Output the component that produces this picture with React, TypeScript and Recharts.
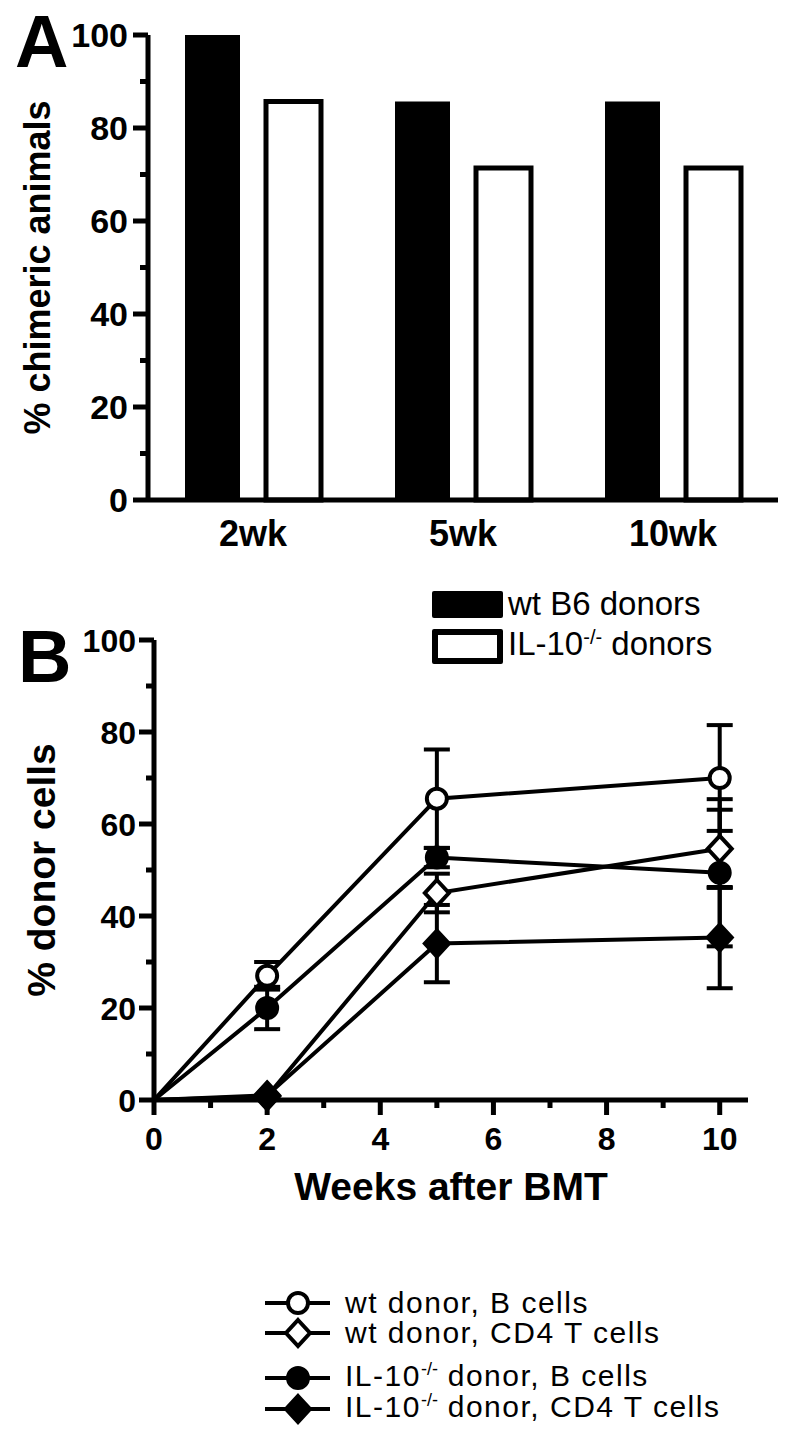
import React from 'react';
import { Bar, BarChart, ErrorBar, Legend, Line, LineChart, XAxis, YAxis } from 'recharts';

const FONT = '"Liberation Sans", Arial, Helvetica, sans-serif';

// panel A: % chimeric animals
const timepoints = ['2wk', '5wk', '10wk'];
const wtB6Chimeric = [100, 85.7, 85.7];
const il10Chimeric = [85.7, 71.4, 71.4];

// panel B: % donor cells (mean and error)
const weeks = [0, 2, 5, 10];
const wtBCells = [0, 27, 65.5, 70];
const wtBCellsErr = [null, 3, 10.7, 11.5];
const wtCd4Cells = [0, 0.8, 45, 54.6];
const wtCd4CellsErr = [null, null, 4.2, 8.5];
const ilBCells = [0, 20, 52.7, 49.4];
const ilBCellsErr = [null, 4.6, 2.1, 16];
const ilCd4Cells = [0, 1, 34, 35.3];
const ilCd4CellsErr = [null, null, 8.4, 11];

const percentTicks = [0, 10, 20, 30, 40, 50, 60, 70, 80, 90, 100];
const weekTicks = [0, 1, 2, 3, 4, 5, 6, 7, 8, 9, 10];

const barData = timepoints.map((t, i) => ({ t, wt: wtB6Chimeric[i], il: il10Chimeric[i] }));

const lineData = weeks.map((week, i) => ({
  week,
  wtB: wtBCells[i],
  wtBErr: wtBCellsErr[i],
  wtT: wtCd4Cells[i],
  wtTErr: wtCd4CellsErr[i],
  ilB: ilBCells[i],
  ilBErr: ilBCellsErr[i],
  ilT: ilCd4Cells[i],
  ilTErr: ilCd4CellsErr[i],
}));

type Marker = 'circle' | 'diamond';

const barSeries = [
  { key: 'wt', label: ['wt B6 donors'], open: false },
  { key: 'il', label: ['IL-10', '-/-', ' donors'], open: true },
];

const lineSeries: { key: string; label: string[]; marker: Marker; filled: boolean }[] = [
  { key: 'wtB', label: ['wt donor, B cells'], marker: 'circle', filled: false },
  { key: 'wtT', label: ['wt donor, CD4 T cells'], marker: 'diamond', filled: false },
  { key: 'ilB', label: ['IL-10', '-/-', ' donor, B cells'], marker: 'circle', filled: true },
  { key: 'ilT', label: ['IL-10', '-/-', ' donor, CD4 T cells'], marker: 'diamond', filled: true },
];

function LabelText({ parts, supSize }: { parts: string[]; supSize: number }) {
  return (
    <span>
      {parts[0]}
      {parts.length > 1 && (
        <span style={{ fontSize: supSize, position: 'relative', top: -11, letterSpacing: 0 }}>{parts[1]}</span>
      )}
      {parts.length > 2 && parts[2]}
    </span>
  );
}

function drawMarker(marker: Marker, filled: boolean, cx: number, cy: number) {
  const fill = filled ? '#000' : '#fff';
  if (marker === 'circle') {
    return <circle cx={cx} cy={cy} r={10} fill={fill} stroke="#000" strokeWidth={4} />;
  }
  return (
    <path
      d={`M${cx},${cy - 13} L${cx + 12},${cy} L${cx},${cy + 13} L${cx - 12},${cy} Z`}
      fill={fill}
      stroke="#000"
      strokeWidth={4}
      strokeLinejoin="miter"
    />
  );
}

function makeDot(marker: Marker, filled: boolean) {
  return (props: any) => {
    const { cx, cy, index, payload } = props;
    // no symbol at the origin
    if (payload.week === 0) return <g key={`dot-${index}`} />;
    return <g key={`dot-${index}`}>{drawMarker(marker, filled, cx, cy)}</g>;
  };
}

// y ticks: long ones with labels every 20, short ones in between
function PercentTick(props: any) {
  const { x, y, payload, size, gap, fontSize } = props;
  const major = payload.value % 20 === 0;
  return (
    <g>
      <line x1={x + gap + (major ? 0 : 7)} x2={x + gap + size} y1={y} y2={y} stroke="#000" strokeWidth={5} />
      {major && (
        <text x={x} y={y} dy="0.36em" textAnchor="end" fontSize={fontSize} fontWeight="bold" fontFamily={FONT} fill="#000">
          {payload.value}
        </text>
      )}
    </g>
  );
}

function WeekTick(props: any) {
  const { x, y, payload } = props;
  const major = payload.value % 2 === 0;
  const axisY = y - 27;
  return (
    <g>
      <line x1={x} x2={x} y1={axisY} y2={axisY + (major ? 15 : 8)} stroke="#000" strokeWidth={5} />
      {major && (
        <text x={x} y={y} dy="0.71em" textAnchor="middle" fontSize={32} fontWeight="bold" fontFamily={FONT} fill="#000">
          {payload.value}
        </text>
      )}
    </g>
  );
}

function makeYTitle(text: string, dx: number, fontSize: number) {
  return (props: any) => {
    const { viewBox } = props;
    const cx = viewBox.x + dx;
    const cy = viewBox.y + viewBox.height / 2;
    return (
      <text
        x={cx}
        y={cy}
        transform={`rotate(-90 ${cx} ${cy})`}
        textAnchor="middle"
        dominantBaseline="central"
        fontSize={fontSize}
        fontWeight="bold"
        fontFamily={FONT}
        fill="#000"
      >
        {text}
      </text>
    );
  };
}

function BarLegend() {
  return (
    <div style={{ fontFamily: FONT, fontSize: 33, color: '#000' }}>
      {barSeries.map((s, i) => (
        <div key={s.key} style={{ display: 'flex', alignItems: 'center', height: s.open ? 38 : 30, marginTop: i === 0 ? 0 : 8 }}>
          <div
            style={{
              width: 71,
              height: s.open ? 35 : 27,
              boxSizing: 'border-box',
              background: s.open ? '#fff' : '#000',
              border: s.open ? '6px solid #000' : 'none',
              borderRadius: 2,
              marginRight: 5,
            }}
          />
          <span style={{ lineHeight: '30px', whiteSpace: 'nowrap' }}>
            <LabelText parts={s.label} supSize={20} />
          </span>
        </div>
      ))}
    </div>
  );
}

function LineLegend() {
  return (
    <div style={{ fontFamily: FONT, fontSize: 30, color: '#000', letterSpacing: 1.5 }}>
      {lineSeries.map((s, i) => (
        <div key={s.key} style={{ display: 'flex', alignItems: 'center', height: i === 3 ? 32 : 30, marginTop: i === 2 ? 15 : 0 }}>
          <svg width={65} height={30} style={{ marginRight: 15, overflow: 'visible' }}>
            <line x1={0} x2={65} y1={15} y2={15} stroke="#000" strokeWidth={4} />
            {drawMarker(s.marker, s.filled, 33, 15)}
          </svg>
          <span style={{ lineHeight: '28px', whiteSpace: 'nowrap' }}>
            <LabelText parts={s.label} supSize={18} />
          </span>
        </div>
      ))}
    </div>
  );
}

const axisLine = { stroke: '#000', strokeWidth: 5 };

export default function App() {
  return (
    <div style={{ position: 'absolute', left: 0, top: 0, width: 792, height: 1452, background: '#fff', fontFamily: FONT }}>
      <div style={{ position: 'absolute', left: 0, top: 0 }}>
        <BarChart
          width={792}
          height={680}
          data={barData}
          margin={{ top: 35, right: 14, left: 0, bottom: 120 }}
          barSize={55}
          barGap={26}
        >
          <XAxis
            dataKey="t"
            axisLine={axisLine}
            tickLine={false}
            tickSize={0}
            tickMargin={20}
            height={60}
            tick={{ fontSize: 36, fontWeight: 'bold', fill: '#000', fontFamily: FONT }}
          />
          <YAxis
            width={148}
            domain={[0, 100]}
            ticks={percentTicks}
            interval={0}
            axisLine={axisLine}
            tickLine={false}
            tickSize={15}
            tickMargin={5}
            tick={(p: any) => <PercentTick {...p} size={15} gap={5} fontSize={34} />}
            label={{ content: makeYTitle('% chimeric animals', 37, 36) }}
          />
          <Legend
            layout="horizontal"
            verticalAlign="middle"
            align="center"
            content={<BarLegend />}
            wrapperStyle={{ position: 'absolute', top: 589, left: 432, width: 340 }}
          />
          <Bar dataKey="wt" name="wt B6 donors" fill="#000" isAnimationActive={false} />
          <Bar dataKey="il" name="IL-10-/- donors" fill="#fff" stroke="#000" strokeWidth={5} isAnimationActive={false} />
        </BarChart>
      </div>

      <div style={{ position: 'absolute', left: 0, top: 560 }}>
        <LineChart width={792} height={892} data={lineData} margin={{ top: 80, right: 44, left: 0, bottom: 252 }}>
          <XAxis
            type="number"
            dataKey="week"
            domain={[0, 10.5]}
            ticks={weekTicks}
            interval={0}
            allowDataOverflow
            axisLine={axisLine}
            tickLine={false}
            tickSize={15}
            tickMargin={12}
            height={100}
            tick={(p: any) => <WeekTick {...p} />}
            label={{
              value: 'Weeks after BMT',
              position: 'insideBottom',
              offset: 0,
              fontSize: 39,
              fontWeight: 'bold',
              fill: '#000',
              fontFamily: FONT,
            }}
          />
          <YAxis
            width={154}
            domain={[0, 100]}
            ticks={percentTicks}
            interval={0}
            axisLine={axisLine}
            tickLine={false}
            tickSize={15}
            tickMargin={3}
            tick={(p: any) => <PercentTick {...p} size={15} gap={3} fontSize={32} />}
            label={{ content: makeYTitle('% donor cells', 41, 39) }}
          />
          <Legend
            layout="horizontal"
            verticalAlign="middle"
            align="center"
            content={<LineLegend />}
            wrapperStyle={{ position: 'absolute', top: 728, left: 265, width: 520 }}
          />
          {lineSeries.map((s) => (
            <Line
              key={s.key}
              dataKey={s.key}
              type="linear"
              stroke="#000"
              strokeWidth={4}
              dot={makeDot(s.marker, s.filled)}
              activeDot={false}
              isAnimationActive={false}
            >
              <ErrorBar dataKey={`${s.key}Err`} direction="y" width={13} stroke="#000" strokeWidth={4} />
            </Line>
          ))}
        </LineChart>
      </div>

      <div style={{ position: 'absolute', left: 15, top: 5, fontSize: 74, fontWeight: 'bold', lineHeight: '74px' }}>A</div>
      <div style={{ position: 'absolute', left: 18, top: 620, fontSize: 74, fontWeight: 'bold', lineHeight: '74px' }}>B</div>
    </div>
  );
}
